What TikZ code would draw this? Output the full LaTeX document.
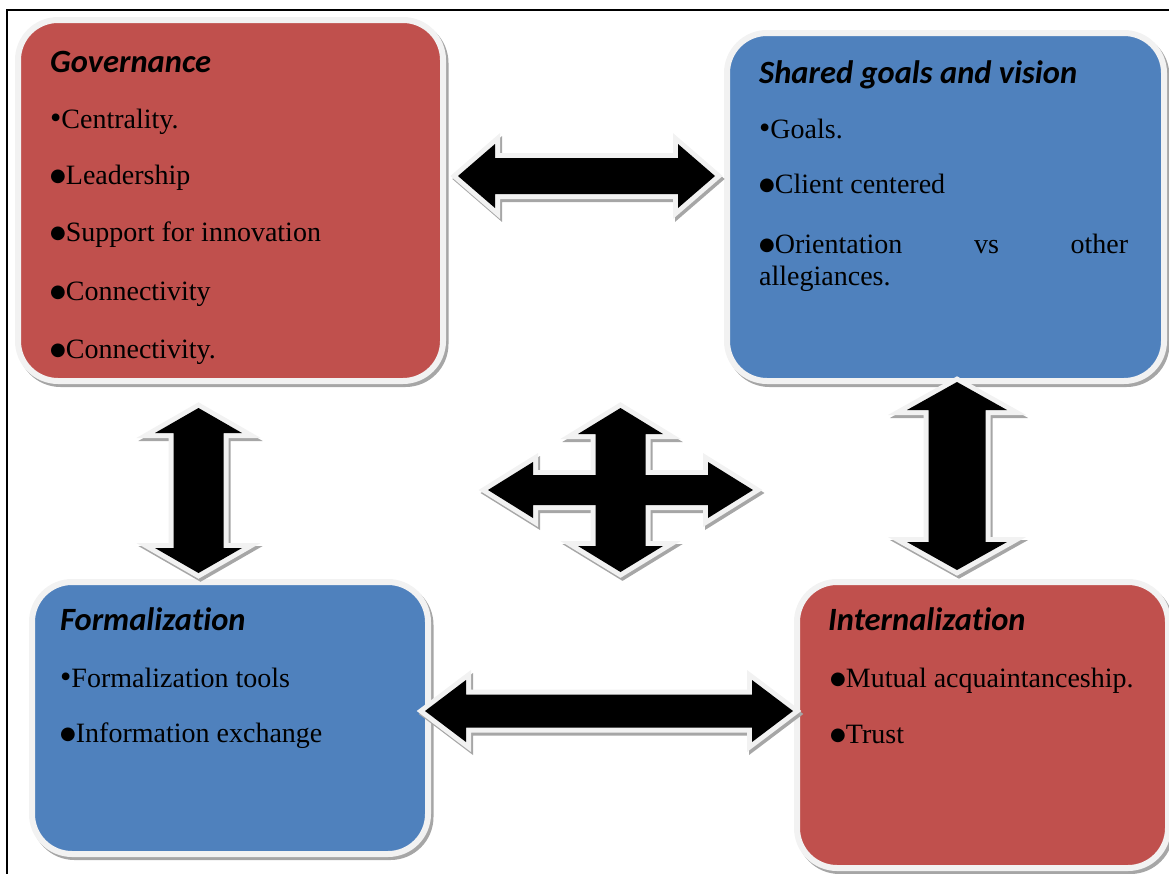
\documentclass[tikz,border=0pt]{standalone}
\usepackage{fontspec}
\usepackage{graphicx}
\setmainfont{Liberation Serif}
\newfontfamily\headfont[Ligatures=NoCommon]{Carlito}
\newfontfamily\symfont{DejaVu Sans}

\definecolor{boxred}{HTML}{C0504D}
\definecolor{boxblue}{HTML}{4F81BD}
\definecolor{rimgray}{HTML}{F2F2F2}
\definecolor{shadegray}{HTML}{A6A6A6}

% bullets: small one for the first item, larger one after it
\newcommand{\smalldot}{\raisebox{-0.7pt}[0pt][0pt]{\scalebox{1.15}{•}}}
\newcommand{\bigdot}{\raisebox{2.5pt}{\symfont\fontsize{18}{18}\selectfont ●}}
% double block arrow: half length, head length, head half width, shaft half width
\newcommand{\arrowpath}[4]{(-#1,0) -- (-#1+#2,-#3) -- (-#1+#2,-#4) -- (#1-#2,-#4) -- (#1-#2,-#3) -- (#1,0) -- (#1-#2,#3) -- (#1-#2,#4) -- (-#1+#2,#4) -- (-#1+#2,#3) -- cycle}

\tikzset{
  card/.style={rounded corners=40pt, draw=rimgray, line width=6pt, anchor=north west, inner sep=0pt,
    preaction={draw=shadegray, line width=6pt, transform canvas={xshift=2.5pt, yshift=-3pt}}},
  head/.style={font=\headfont\bfseries\itshape\fontsize{32.5}{38}\selectfont, anchor=base west, inner sep=0pt},
  item/.style={font=\fontsize{28}{32}\selectfont, anchor=base west, inner sep=0pt},
  arrowshade/.style={draw=shadegray, fill=shadegray, line width=10pt, transform canvas={xshift=2pt, yshift=-3pt}},
  arrowrim/.style={draw=rimgray, line width=10pt},
  arrowbody/.style={fill=black}
}

\begin{document}
\begin{tikzpicture}[x=1pt, y=-1pt]
\useasboundingbox (0,0) rectangle (1169,873);
\clip (0,0) rectangle (1169,873);
\draw[line width=2pt] (7,900) -- (7,10) -- (1200,10);

% the four boxes
\node[card, fill=boxred, minimum width=425pt, minimum height=361pt] (gov) at (15,17) {};
\node[card, fill=boxblue, minimum width=437pt, minimum height=348pt] (goal) at (724,30) {};
\node[card, fill=boxblue, minimum width=396pt, minimum height=272pt] (form) at (29,579) {};
\node[card, fill=boxred, minimum width=371pt, minimum height=286pt] (intl) at (794,579) {};

% block arrows: centre x / centre y / angle / half length / head length / head half / shaft half
\def\arrowlist{586.5/176/0/128.5/37/32/18, 609/711/0/184/41/31/16.5, 198.5/490.5/90/82.5/25/43.5/25, 957/476/90/94/28/50/28.5, 620.5/490/0/132.5/45/28/15, 620.5/490/90/82/26/42.5/25}
\foreach \cx/\cy/\ang/\len/\hl/\hw/\sw in \arrowlist
  \path[arrowshade, shift={(\cx,\cy)}, rotate=\ang] \arrowpath{\len}{\hl}{\hw}{\sw};
\foreach \cx/\cy/\ang/\len/\hl/\hw/\sw in \arrowlist
  \path[arrowrim, shift={(\cx,\cy)}, rotate=\ang] \arrowpath{\len}{\hl}{\hw}{\sw};
\foreach \cx/\cy/\ang/\len/\hl/\hw/\sw in \arrowlist
  \path[arrowbody, shift={(\cx,\cy)}, rotate=\ang] \arrowpath{\len}{\hl}{\hw}{\sw};

% Governance
\node[head] (govhead) at (50,72) {Governance};
\node[item] (gov1) at (50,128) {\smalldot Centrality.};
\node[item] (gov2) at (50,184) {\bigdot Leadership};
\node[item] (gov3) at (50,241) {\bigdot Support for innovation};
\node[item] (gov4) at (50,300) {\bigdot Connectivity};
\node[item] (gov5) at (50,358) {\bigdot Connectivity.};

% Shared goals and vision
\node[head] (goalhead) at (759,83) {Shared goals and vision};
\node[item] (goal1) at (759,138) {\smalldot Goals.};
\node[item] (goal2) at (759,193) {\bigdot Client centered};
\node[item] (goal3) at (759,253) {\parbox[t]{369pt}{\bigdot Orientation vs other\linebreak allegiances.}};

% Formalization
\node[head] (formhead) at (60,630) {Formalization};
\node[item] (form1) at (60,687) {\smalldot Formalization tools};
\node[item] (form2) at (60,742) {\bigdot Information exchange};

% Internalization
\node[head] (intlhead) at (828,630) {Internalization};
\node[item] (intl1) at (830,687) {\bigdot Mutual acquaintanceship.};
\node[item] (intl2) at (830,743) {\bigdot Trust};
\end{tikzpicture}
\end{document}
